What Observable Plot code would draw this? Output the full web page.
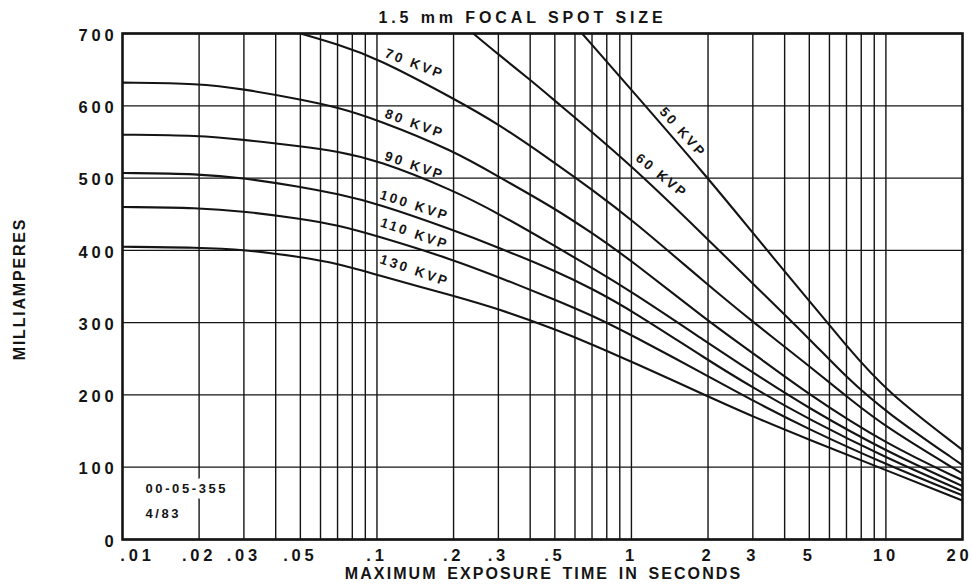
<!DOCTYPE html>
<html>
<head>
<meta charset="utf-8">
<script src="https://cdn.jsdelivr.net/npm/d3@7"></script>
<script src="https://cdn.jsdelivr.net/npm/@observablehq/plot@0.6"></script>
<style>
  html, body { margin: 0; padding: 0; background: #ffffff; }
  #chart svg { display: block; }
  #chart svg text { font-weight: 700; }
  g[aria-label="y-axis tick label"] text, g[aria-description="xticks"] text { letter-spacing: 3.8px; }
  g[aria-description="title"] text { letter-spacing: 3.9px; }
  g[aria-description="xtitle"] text { letter-spacing: 2.1px; word-spacing: 3px; }
  g[aria-description="ytitle"] text { letter-spacing: 1.8px; }
  g[aria-description="curve-labels"] text { letter-spacing: 2.6px; }
  g[aria-description="note"] text { letter-spacing: 2.6px; }
</style>
</head>
<body>
<div id="chart"></div>
<script>
// ---- texts ----
const titleText = "1.5 mm FOCAL SPOT SIZE";
const xTitle = "MAXIMUM EXPOSURE TIME IN SECONDS";
const yTitle = "MILLIAMPERES";
const noteLines = ["00-05-355", "4/83"];

// ---- ticks & grid ----
const xTicks = [0.01, 0.02, 0.03, 0.05, 0.1, 0.2, 0.3, 0.5, 1, 2, 3, 5, 10, 20];
const xTickLabels = [".01", ".02", ".03", ".05", ".1", ".2", ".3", ".5", "1", "2", "3", "5", "10", "20"];
const yTicks = [0, 100, 200, 300, 400, 500, 600, 700];
const xGrid = [0.02, 0.03, 0.04, 0.05, 0.06, 0.07, 0.08, 0.09,
               0.1, 0.2, 0.3, 0.4, 0.5, 0.6, 0.7, 0.8, 0.9,
               1, 2, 3, 4, 5, 6, 7, 8, 9, 10];

// ---- curves (exposure time in s, milliamperes) ----
const tLow  = [0.01, 0.02, 0.03, 0.05, 0.07, 0.1, 0.2, 0.3, 0.5, 0.7, 1, 2, 3, 5, 10, 20];
const mA80  = [632, 631, 623, 609, 598, 581, 538, 502, 458, 424, 386, 302, 258, 200, 132, 82];
const mA90  = [560, 559, 553, 544, 537, 525, 483, 451, 406, 376, 343, 272, 231, 181, 122, 74];
const mA100 = [507, 506, 500, 488, 478, 465, 428, 404, 372, 347, 317, 248, 210, 166, 113, 67];
const mA110 = [460, 459, 454, 444, 435, 420, 387, 363, 332, 310, 283, 226, 192, 152, 104, 61];
const mA130 = [405, 404, 401, 391, 382, 366, 337, 319, 291, 270, 246, 198, 170, 138, 96, 54];

const t70  = [0.05, 0.07, 0.1, 0.2, 0.3, 0.5, 0.7, 1, 2, 3, 5, 7, 10, 20];
const mA70 = [700, 685, 666, 610, 575, 521, 484, 443, 352, 301, 240, 198, 155, 91];

const t60  = [0.239, 0.3, 0.4, 0.5, 1, 2, 3, 5, 7, 10, 20];
const mA60 = [700, 671, 636, 607, 518, 415, 354, 278, 224, 176, 103];

const t50  = [0.64, 1, 2, 3, 5, 7, 10, 20];
const mA50 = [700, 622, 500, 424, 330, 268, 205, 124];

// ---- curve labels ----
const labelText  = ["50 KVP", "60 KVP", "70 KVP", "80 KVP", "90 KVP", "100 KVP", "110 KVP", "130 KVP"];
const labelT     = [1.59, 1.315, 0.1406, 0.1406, 0.1406, 0.1406, 0.1406, 0.1406];
const labelMa    = [563, 503, 658, 575, 517, 462, 423, 372];
const labelAngle = [48, 39, 21, 20, 19, 18, 19, 19];

// ---- build tables ----
const seriesDefs = [
  ["50 KVP", t50, mA50], ["60 KVP", t60, mA60], ["70 KVP", t70, mA70],
  ["80 KVP", tLow, mA80], ["90 KVP", tLow, mA90], ["100 KVP", tLow, mA100],
  ["110 KVP", tLow, mA110], ["130 KVP", tLow, mA130]
];
const curves = seriesDefs.flatMap(([k, ts, ms]) => ts.map((t, i) => ({series: k, t, mA: ms[i]})));
const labels = labelText.map((s, i) => ({s, t: labelT[i], mA: labelMa[i], a: labelAngle[i]}));
const ticks = xTicks.map((t, i) => ({t, label: xTickLabels[i]}));
const firstTick = ticks.slice(0, 1), midTicks = ticks.slice(1, -1), lastTick = ticks.slice(-1);

const ink = "#141414";
const font = "'Liberation Sans', Arial, Helvetica, sans-serif";
const tickText = {x: "t", text: "label", frameAnchor: "bottom", lineAnchor: "middle", textAnchor: "middle",
                  dy: 16, fontSize: 16.5, fontWeight: "bold", fill: ink, ariaDescription: "xticks"};

const chart = Plot.plot({
  width: 972,
  height: 584,
  marginLeft: 122,
  marginRight: 10,
  marginTop: 33,
  marginBottom: 45,
  style: {fontFamily: font, background: "#ffffff", color: ink},
  x: {type: "log", domain: [0.01, 20], axis: null},
  y: {domain: [0, 700]},
  marks: [
    Plot.ruleX(xGrid, {stroke: ink, strokeWidth: 1.4}),
    Plot.ruleY(yTicks, {stroke: ink, strokeWidth: 1.3}),
    Plot.line(curves, {x: "t", y: "mA", z: "series", stroke: ink, strokeWidth: 2.1, curve: "basis", clip: "frame"}),
    Plot.text(labels, {x: "t", y: "mA", text: "s", rotate: "a", fill: ink, fontSize: 13.5, fontWeight: "bold", ariaDescription: "curve-labels"}),
    Plot.text([noteLines[0]], {frameAnchor: "bottom-left", lineAnchor: "middle", textAnchor: "start", dx: 23, dy: -50.5, fontSize: 13, fill: ink, stroke: "#ffffff", strokeWidth: 12, paintOrder: "stroke", ariaDescription: "note"}),
    Plot.text([noteLines[1]], {frameAnchor: "bottom-left", lineAnchor: "middle", textAnchor: "start", dx: 23, dy: -25.5, fontSize: 13, fill: ink, ariaDescription: "note"}),
    Plot.frame({stroke: ink, strokeWidth: 2.6}),
    Plot.text(firstTick, {...tickText, dx: 15}),
    Plot.text(midTicks, {...tickText, dx: 0}),
    Plot.text(lastTick, {...tickText, dx: -3}),
    Plot.axisY(yTicks, {tickSize: 0, tickPadding: 5, dy: 2, fontSize: 16.5, fontWeight: "bold", fill: ink, label: null}),
    Plot.text([titleText], {frameAnchor: "top", lineAnchor: "middle", textAnchor: "middle", dx: -20, dy: -16, fontSize: 16, fontWeight: "bold", fill: ink, ariaDescription: "title"}),
    Plot.text([xTitle], {frameAnchor: "bottom", lineAnchor: "middle", textAnchor: "middle", dx: 1, dy: 34, fontSize: 16, fontWeight: "bold", fill: ink, ariaDescription: "xtitle"}),
    Plot.text([yTitle], {frameAnchor: "left", lineAnchor: "middle", textAnchor: "middle", dx: -103, dy: 2.5, rotate: -90, fontSize: 16, fontWeight: "bold", fill: ink, ariaDescription: "ytitle"})
  ]
});
document.getElementById("chart").appendChild(chart);
</script>
</body>
</html>
